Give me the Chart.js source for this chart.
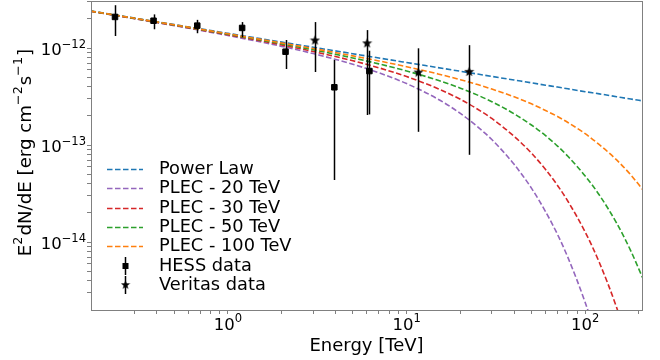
<!DOCTYPE html>
<html>
<head>
<meta charset="utf-8">
<script src="https://cdn.jsdelivr.net/npm/chart.js@4/dist/chart.umd.min.js"></script>
<style>
  html, body { margin: 0; padding: 0; background: #fff; }
  canvas { display: block; }
</style>
</head>
<body>
<canvas id="sed" width="660" height="360"></canvas>
<script>
var curveE = [0.17, 0.3, 0.5, 1, 2, 3, 5, 7, 10, 15, 20, 25, 30, 40, 50, 60, 70, 80, 100, 120, 150, 180, 210];

var powerLaw = [2.408e-12, 2.031e-12, 1.742e-12, 1.415e-12, 1.149e-12, 1.018e-12, 8.73e-13, 7.89e-13, 7.09e-13, 6.28e-13, 5.76e-13, 5.39e-13, 5.10e-13, 4.68e-13, 4.38e-13, 4.14e-13, 3.96e-13, 3.80e-13, 3.55e-13, 3.37e-13, 3.15e-13, 2.98e-13, 2.85e-13];
var plec20 = [2.388e-12, 2.001e-12, 1.699e-12, 1.346e-12, 1.040e-12, 8.76e-13, 6.80e-13, 5.56e-13, 4.30e-13, 2.97e-13, 2.12e-13, 1.54e-13, 1.14e-13, 6.33e-14, 3.60e-14, 2.06e-14, 1.20e-14, 6.96e-15, 2.39e-15, 8.4e-16, 1.74e-16, 3.7e-17, 7.8e-18];
var plec30 = [2.394e-12, 2.011e-12, 1.713e-12, 1.369e-12, 1.075e-12, 9.21e-13, 7.39e-13, 6.25e-13, 5.08e-13, 3.81e-13, 2.96e-13, 2.34e-13, 1.88e-13, 1.23e-13, 8.27e-14, 5.60e-14, 3.84e-14, 2.64e-14, 1.27e-14, 6.17e-15, 2.12e-15, 7.4e-16, 2.6e-16];
var plec50 = [2.400e-12, 2.019e-12, 1.725e-12, 1.387e-12, 1.104e-12, 9.59e-13, 7.90e-13, 6.86e-13, 5.80e-13, 4.65e-13, 3.86e-13, 3.27e-13, 2.80e-13, 2.10e-13, 1.61e-13, 1.25e-13, 9.77e-14, 7.67e-14, 4.80e-14, 3.06e-14, 1.57e-14, 8.14e-15, 4.27e-15];
var plec100 = [2.404e-12, 2.025e-12, 1.733e-12, 1.401e-12, 1.126e-12, 9.88e-13, 8.30e-13, 7.36e-13, 6.42e-13, 5.41e-13, 4.72e-13, 4.20e-13, 3.78e-13, 3.14e-13, 2.66e-13, 2.27e-13, 1.97e-13, 1.71e-13, 1.31e-13, 1.01e-13, 7.03e-14, 4.93e-14, 3.48e-14];

// HESS points with error bar ends
var hessE  = [0.233, 0.383, 0.673, 1.20, 2.10, 3.94, 6.19];
var hessF  = [2.09e-12, 1.91e-12, 1.70e-12, 1.61e-12, 9.16e-13, 3.94e-13, 5.79e-13];
var hessLo = [1.33e-12, 1.56e-12, 1.42e-12, 1.29e-12, 6.08e-13, 4.37e-14, 2.07e-13];
var hessHi = [2.76e-12, 2.22e-12, 1.95e-12, 1.85e-12, 1.21e-12, 7.52e-13, 9.38e-13];

// Veritas points
var verE  = [3.07, 6.01, 11.65, 22.4];
var verF  = [1.21e-12, 1.13e-12, 5.66e-13, 5.75e-13];
var verLo = [5.66e-13, 2.04e-13, 1.37e-13, 7.94e-14];
var verHi = [1.85e-12, 1.53e-12, 9.93e-13, 1.07e-12];

var curveNames = ['Power Law', 'PLEC - 20 TeV', 'PLEC - 30 TeV', 'PLEC - 50 TeV', 'PLEC - 100 TeV'];
var curveColors = ['#1f77b4', '#9467bd', '#d62728', '#2ca02c', '#ff7f0e'];
var curveData = [powerLaw, plec20, plec30, plec50, plec100];
var curveOrder = [4, 3, 2, 1, 0];

var FONT = "'DejaVu Sans', sans-serif";
var FRAME = '#808080';
var MINUS = '\u2212';

function pts(xs, ys) {
  return xs.map(function (x, i) { return { x: x, y: ys[i] }; });
}

function starImage(size) {
  var c = document.createElement('canvas');
  c.width = size; c.height = size;
  var g = c.getContext('2d');
  var cx = size / 2, cy = size / 2 + 0.5, R = size / 2 - 0.2, r = R * 0.42;
  g.beginPath();
  for (var i = 0; i < 10; i++) {
    var a = -Math.PI / 2 + i * Math.PI / 5;
    var rr = i % 2 ? r : R;
    g.lineTo(cx + rr * Math.cos(a), cy + rr * Math.sin(a));
  }
  g.closePath();
  g.fillStyle = '#000';
  g.fill();
  return c;
}
var star = starImage(11);

function mantissa(v) {
  return v / Math.pow(10, Math.floor(Math.log10(v) + 1e-9));
}
function keepLogTicks(scale) {
  scale.ticks = scale.ticks.filter(function (t) {
    var m = mantissa(t.value);
    return Math.abs(m - Math.round(m)) < 1e-6 && t.value > scale.min * 1.0001 && t.value < scale.max * 0.9999;
  });
}

// text pieces: [text, isSuperscript]
function richWidth(ctx, parts, size) {
  var w = 0;
  parts.forEach(function (p) {
    ctx.font = (p[1] ? size * 0.7 : size) + 'px ' + FONT;
    w += ctx.measureText(p[0]).width + (p[1] ? 1 : 0);
  });
  return w;
}
function drawRich(ctx, parts, x, baseline, size, align, rise) {
  var w = richWidth(ctx, parts, size);
  var cx = align === 'right' ? x - w : align === 'center' ? x - w / 2 : x;
  ctx.textAlign = 'left';
  ctx.textBaseline = 'alphabetic';
  parts.forEach(function (p) {
    ctx.font = (p[1] ? size * 0.7 : size) + 'px ' + FONT;
    ctx.fillText(p[0], cx, p[1] ? baseline - rise : baseline);
    cx += ctx.measureText(p[0]).width + (p[1] ? 1 : 0);
  });
}
function powParts(v) {
  var e = Math.round(Math.log10(v));
  return [['10', false], [String(e).replace('-', MINUS), true]];
}

var datasets = curveNames.map(function (name, i) {
  return {
    label: name,
    data: pts(curveE, curveData[i]),
    borderColor: curveColors[i],
    borderWidth: 1.6,
    borderDash: [5.5, 2.5],
    pointRadius: 0,
    fill: false,
    cubicInterpolationMode: 'monotone',
    showLine: true,
    order: curveOrder[i]
  };
});
datasets.push({
  label: 'HESS data',
  data: pts(hessE, hessF),
  pointStyle: 'rect',
  pointRadius: 3.9,
  backgroundColor: '#000',
  borderColor: '#000',
  borderWidth: 1,
  showLine: false,
  order: -1
});
datasets.push({
  label: 'Veritas data',
  data: pts(verE, verF),
  pointStyle: star,
  pointRadius: 5.5,
  showLine: false,
  order: -2
});

var errorBars = {
  id: 'errorBars',
  beforeDatasetDraw: function (chart, args) {
    if (chart.data.datasets[args.index].label !== 'HESS data') return;
    var x = chart.scales.x, y = chart.scales.y, ctx = chart.ctx;
    ctx.save();
    ctx.strokeStyle = '#000';
    ctx.lineWidth = 1.5;
    [[hessE, hessLo, hessHi], [verE, verLo, verHi]].forEach(function (s) {
      s[0].forEach(function (e, i) {
        var px = Math.round(x.getPixelForValue(e)) + 0.5;
        ctx.beginPath();
        ctx.moveTo(px, y.getPixelForValue(s[1][i]));
        ctx.lineTo(px, y.getPixelForValue(s[2][i]));
        ctx.stroke();
      });
    });
    ctx.restore();
  }
};

var frameLabelsLegend = {
  id: 'frameLabelsLegend',
  afterDraw: function (chart) {
    var ctx = chart.ctx, a = chart.chartArea;
    var xs = chart.scales.x, ys = chart.scales.y;
    ctx.save();
    ctx.strokeStyle = FRAME;
    ctx.lineWidth = 1;
    ctx.strokeRect(Math.round(a.left) + 0.5, Math.round(a.top) + 0.5, Math.round(a.right - a.left), Math.round(a.bottom - a.top));

    // decade tick labels
    ctx.fillStyle = '#000';
    ys.ticks.forEach(function (t) {
      if (Math.abs(mantissa(t.value) - 1) > 1e-6) return;
      drawRich(ctx, powParts(t.value), a.left - 4, ys.getPixelForValue(t.value) + 7.3, 16.5, 'right', 7.5);
    });
    xs.ticks.forEach(function (t) {
      if (Math.abs(mantissa(t.value) - 1) > 1e-6) return;
      drawRich(ctx, powParts(t.value), xs.getPixelForValue(t.value) + 0.5, a.bottom + 20, 16.5, 'center', 8.5);
    });

    // y axis title
    ctx.save();
    ctx.translate(30.7, (a.top + a.bottom) / 2 - 3);
    ctx.rotate(-Math.PI / 2);
    drawRich(ctx, [['E', false], ['2', true], ['dN/dE [erg cm', false], [MINUS + '2', true], ['s', false], [MINUS + '1', true], [']', false]], 0, 0, 18.2, 'center', 9);
    ctx.restore();

    // legend
    var x0 = a.left + 16, x1 = x0 + 36, tx = a.left + 68, y0 = a.top + 168, dy = 19.3;
    ctx.font = '17.8px ' + FONT;
    ctx.textAlign = 'left';
    ctx.textBaseline = 'middle';
    curveNames.forEach(function (name, i) {
      var yy = Math.round(y0 + i * dy) + 0.5;
      ctx.strokeStyle = curveColors[i];
      ctx.lineWidth = 1.6;
      ctx.setLineDash([5.5, 2.5]);
      ctx.beginPath();
      ctx.moveTo(x0, yy);
      ctx.lineTo(x1, yy);
      ctx.stroke();
      ctx.fillStyle = '#000';
      ctx.fillText(name, tx, yy);
    });
    ctx.setLineDash([]);
    var mx = Math.round((x0 + x1) / 2) + 0.5;
    ['HESS data', 'Veritas data'].forEach(function (name, j) {
      var yy = Math.round(y0 + (5 + j) * dy);
      ctx.strokeStyle = '#000';
      ctx.lineWidth = 1.5;
      ctx.beginPath();
      ctx.moveTo(mx, yy - 9);
      ctx.lineTo(mx, yy + 9);
      ctx.stroke();
      if (j === 0) {
        ctx.fillStyle = '#000';
        ctx.fillRect(mx - 3, yy - 3, 6, 6);
      } else {
        ctx.drawImage(star, mx - 5, yy - 5.5, 10, 10);
      }
      ctx.fillStyle = '#000';
      ctx.fillText(name, tx, yy);
    });
    ctx.restore();
  }
};

new Chart(document.getElementById('sed'), {
  type: 'scatter',
  data: { datasets: datasets },
  plugins: [errorBars, frameLabelsLegend],
  options: {
    responsive: false,
    animation: false,
    devicePixelRatio: 1,
    layout: { autoPadding: false, padding: { top: 1, right: 18, left: 0, bottom: 0 } },
    plugins: { legend: { display: false }, tooltip: { enabled: false } },
    scales: {
      x: {
        type: 'logarithmic',
        min: 0.171,
        max: 208,
        afterBuildTicks: keepLogTicks,
        afterFit: function (s) { s.height = 50; s.paddingLeft = 0; s.paddingRight = 0; },
        grid: {
          drawOnChartArea: false,
          drawTicks: true,
          tickLength: 4,
          tickColor: FRAME,
          tickWidth: 1
        },
        border: { color: FRAME },
        ticks: { display: false, autoSkip: false },
        title: {
          display: true,
          text: 'Energy [TeV]',
          color: '#000',
          font: { family: FONT, size: 18 },
          padding: { top: 0, bottom: 3 }
        }
      },
      y: {
        type: 'logarithmic',
        min: 2.0e-15,
        max: 3.05e-12,
        afterBuildTicks: keepLogTicks,
        afterFit: function (s) { s.width = 91; s.paddingTop = 0; s.paddingBottom = 0; },
        grid: {
          drawOnChartArea: false,
          drawTicks: true,
          tickLength: 4,
          tickColor: FRAME,
          tickWidth: 1
        },
        border: { color: FRAME },
        ticks: { display: false, autoSkip: false },
        title: { display: false }
      }
    }
  }
});
</script>
</body>
</html>
